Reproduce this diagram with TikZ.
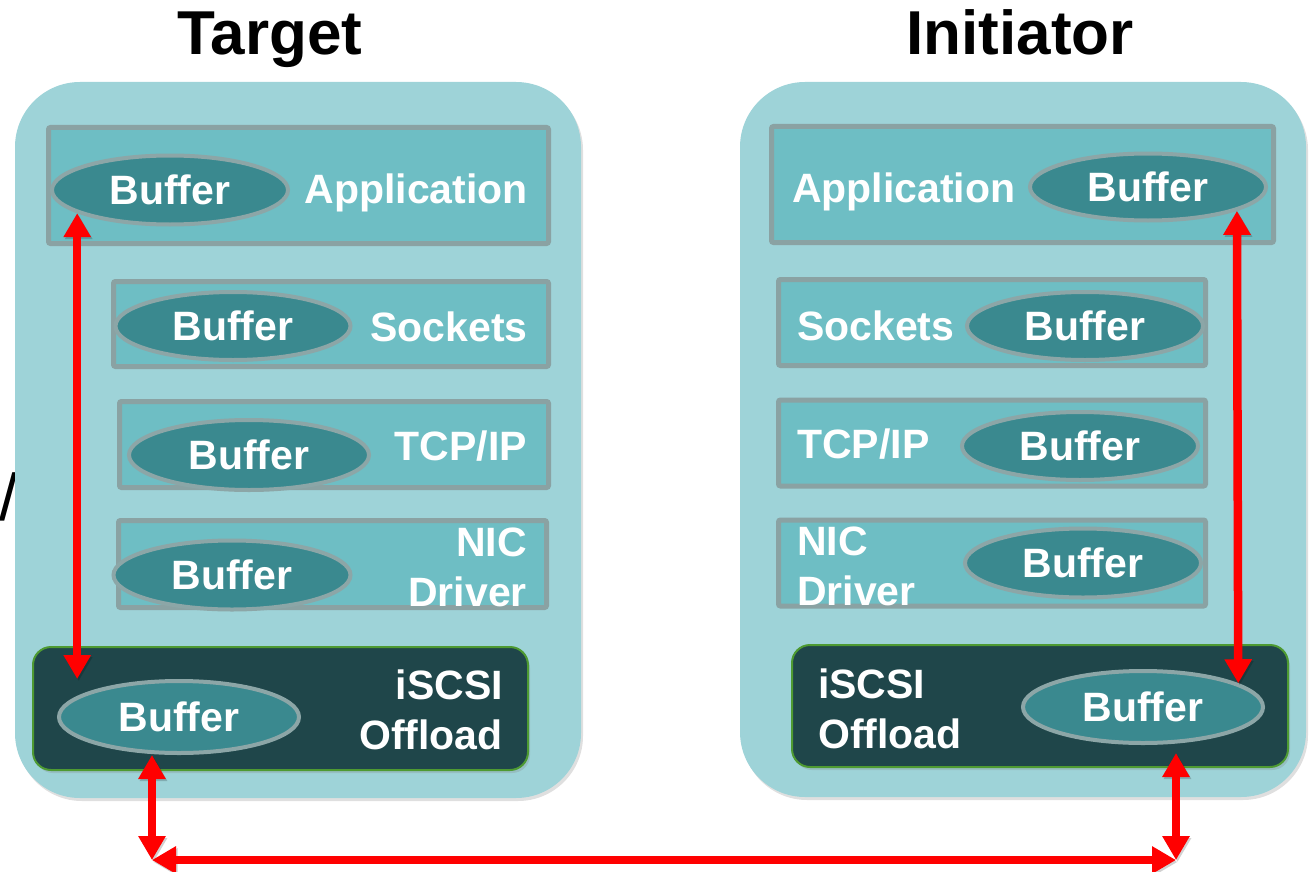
\documentclass[tikz,border=0pt]{standalone}
\usepackage{fontspec}
\setmainfont{Liberation Sans}
\usetikzlibrary{arrows.meta,shapes.geometric,shadows,calc}

\definecolor{outerfill}{HTML}{9ED3D8}
\definecolor{layerfill}{HTML}{6EBEC4}
\definecolor{layerline}{HTML}{8AA2A3}
\definecolor{buffill}{HTML}{3A898F}
\definecolor{bufline}{HTML}{8CA6A7}
\definecolor{iscsifill}{HTML}{1F464A}
\definecolor{iscsiline}{HTML}{4E9A32}
\definecolor{linkred}{HTML}{FF0000}

\newcommand\labfont{\bfseries\fontsize{41}{41}\selectfont}

\begin{document}
\begin{tikzpicture}[x=1pt,y=-1pt,
  outerbox/.style={fill=outerfill, rounded corners=65pt, inner sep=0pt,
    drop shadow={shadow xshift=2pt, shadow yshift=-3pt, opacity=0.25}},
  layerbox/.style={fill=layerfill, draw=layerline, line width=5pt,
    rounded corners=2pt, inner sep=0pt},
  iscsibox/.style={fill=iscsifill, draw=iscsiline, line width=2pt,
    rounded corners=18pt, inner sep=0pt,
    drop shadow={shadow xshift=2pt, shadow yshift=-3pt, opacity=0.25}},
  buf/.style={ellipse, fill=buffill, draw=bufline, line width=4pt,
    inner sep=0pt, text=white, font=\labfont},
  lbl/.style={text=white, font=\labfont, inner sep=0pt},
  heading/.style={font=\bfseries\fontsize{62}{62}\selectfont, inner sep=0pt},
  link/.style={draw=linkred, line width=8.5pt,
    {Triangle[width=26pt,length=24pt]}-{Triangle[width=26pt,length=24pt]},
    preaction={draw=black, draw opacity=0.18, transform canvas={shift={(1.5pt,-2pt)}}}}
]
\useasboundingbox (0,0) rectangle (1314,872);

% cut-off glyph at the left edge
\node[font=\fontsize{66}{66}\selectfont, anchor=base west, inner sep=0pt] (cut) at (-1,520) {/};

% headings
\node[heading, anchor=base] (ttarget) at (270,55) {Target};
\node[heading, anchor=base] (tinit) at (1020,55) {Initiator};

% host frames
\node[outerbox, minimum width=566pt, minimum height=716pt] (lhost) at (298,440) {};
\node[outerbox, minimum width=566pt, minimum height=715pt] (rhost) at (1023,439.5) {};

% target stack
\node[layerbox, minimum width=500pt, minimum height=116pt] (lapp)  at (298.5,185.5) {};
\node[layerbox, minimum width=435pt, minimum height=85pt]  (lsock) at (331,324) {};
\node[layerbox, minimum width=429pt, minimum height=86pt]  (ltcp)  at (334,444.5) {};
\node[layerbox, minimum width=428pt, minimum height=87pt]  (lnic)  at (332.5,564) {};
\node[iscsibox, minimum width=495pt, minimum height=123pt] (liscsi) at (280.5,708.5) {};

% initiator stack
\node[layerbox, minimum width=502pt, minimum height=116pt] (rapp)  at (1022.5,184.5) {};
\node[layerbox, minimum width=427pt, minimum height=86pt]  (rsock) at (992,322.5) {};
\node[layerbox, minimum width=427pt, minimum height=86pt]  (rtcp)  at (992,443) {};
\node[layerbox, minimum width=427pt, minimum height=86pt]  (rnic)  at (992,563) {};
\node[iscsibox, minimum width=496pt, minimum height=122pt] (riscsi) at (1040,706) {};

% target labels
\node[lbl, anchor=base east] (lapptxt)  at (528,203) {Application};
\node[lbl, anchor=base east] (lsocktxt) at (528,341) {Sockets};
\node[lbl, anchor=base east] (ltcptxt)  at (527,460) {TCP/IP};
\node[lbl, anchor=base east] (lnictxt)  at (527,556) {NIC};
\node[lbl, anchor=base east] (ldrvtxt)  at (527,606) {Driver};
\node[lbl, anchor=base east] (liscsitxt) at (503,699) {iSCSI};
\node[lbl, anchor=base east] (lofftxt)  at (503,749) {Offload};

% initiator labels
\node[lbl, anchor=base west] (rapptxt)  at (792,202) {Application};
\node[lbl, anchor=base west] (rsocktxt) at (797,340) {Sockets};
\node[lbl, anchor=base west] (rtcptxt)  at (797,458) {TCP/IP};
\node[lbl, anchor=base west] (rnictxt)  at (797,555) {NIC};
\node[lbl, anchor=base west] (rdrvtxt)  at (797,605) {Driver};
\node[lbl, anchor=base west] (riscsitxt) at (818,698) {iSCSI};
\node[lbl, anchor=base west] (rofftxt)  at (818,748) {Offload};

% buffers
\node[buf, minimum width=236pt, minimum height=69pt] (la) at (170,190) {Buffer};
\node[buf, minimum width=235pt, minimum height=68pt] (ls) at (233,326) {Buffer};
\node[buf, minimum width=240pt, minimum height=70pt] (lt) at (249,455) {Buffer};
\node[buf, minimum width=237pt, minimum height=69pt] (ln) at (232,575) {Buffer};
\node[buf, minimum width=240pt, minimum height=72pt] (li) at (179,717) {Buffer};

\node[buf, minimum width=236pt, minimum height=67pt] (ra) at (1148,187) {Buffer};
\node[buf, minimum width=236pt, minimum height=68pt] (rs) at (1085,326) {Buffer};
\node[buf, minimum width=236pt, minimum height=68pt] (rt) at (1080,446) {Buffer};
\node[buf, minimum width=236pt, minimum height=69pt] (rn) at (1083,563) {Buffer};
\node[buf, minimum width=240pt, minimum height=72pt] (ri) at (1143,707) {Buffer};

% data paths
\coordinate (cl) at (152,860);
\coordinate (cr) at (1176,860);

\draw[link] (la.194.6) -- (la.194.6 |- li.north);
\draw[link] (ra.-15.7) -- (ri.14.8);
\draw[link] (li.south -| cl) -- (cl);
\draw[link] ($(ri.south -| cr)+(0,8)$) -- (cr);
\draw[link] (cl) -- (cr);
\end{tikzpicture}
\end{document}
